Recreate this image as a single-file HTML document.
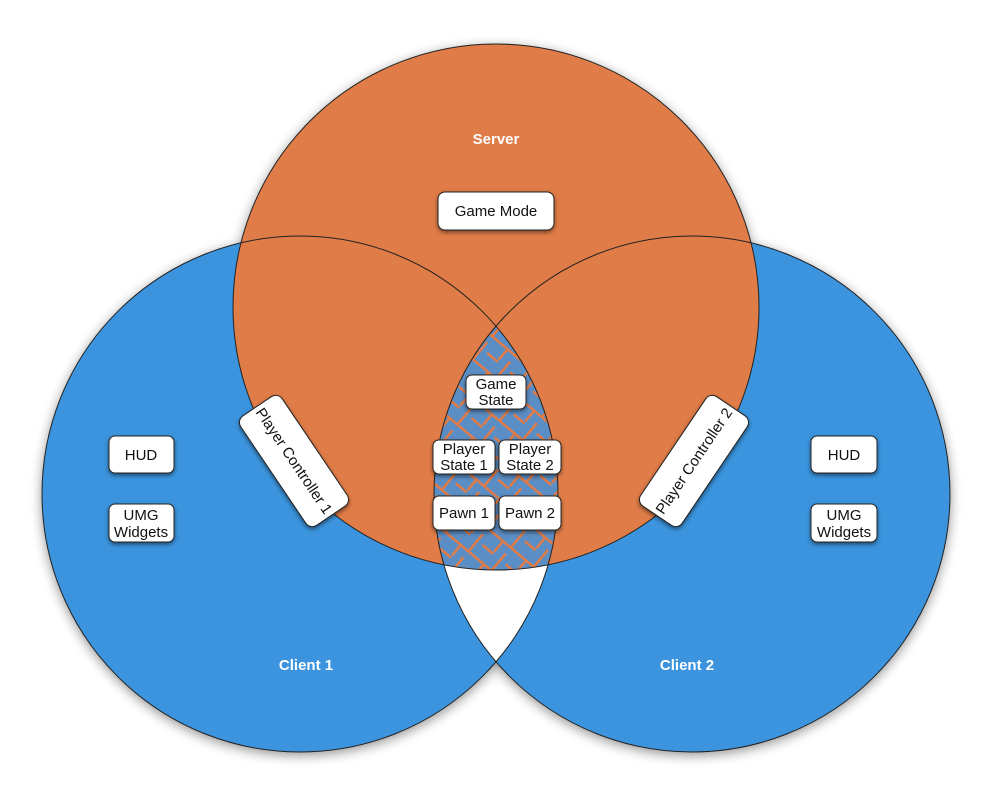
<!DOCTYPE html>
<html><head><meta charset="utf-8"><style>
html,body{margin:0;padding:0;background:#fff;}
svg{display:block}
text{font-family:"Liberation Sans",sans-serif;}
</style></head><body>
<svg width="994" height="800" viewBox="0 0 994 800" xmlns="http://www.w3.org/2000/svg">
<defs>
<filter id="sh" x="-20%" y="-20%" width="140%" height="140%"><feGaussianBlur in="SourceAlpha" stdDeviation="6"/><feOffset dx="0" dy="3"/><feComponentTransfer><feFuncA type="linear" slope="0.45"/></feComponentTransfer><feMerge><feMergeNode/><feMergeNode in="SourceGraphic"/></feMerge></filter>
<filter id="bs" x="-30%" y="-30%" width="160%" height="160%"><feGaussianBlur in="SourceAlpha" stdDeviation="2"/><feOffset dx="0" dy="2"/><feComponentTransfer><feFuncA type="linear" slope="0.5"/></feComponentTransfer><feMerge><feMergeNode/><feMergeNode in="SourceGraphic"/></feMerge></filter>
<pattern id="maze" width="30" height="30" patternUnits="userSpaceOnUse" patternTransform="rotate(40)">
<rect width="30" height="30" fill="#5b8ec4"/>
<rect x="0" y="0" width="30" height="2.5" fill="#e07b47"/>
<rect x="12" y="2" width="2.5" height="13" fill="#e07b47"/>
<rect x="0" y="16" width="14" height="2.5" fill="#e07b47"/>
<rect x="22" y="9" width="2.5" height="21" fill="#e07b47"/>
</pattern>
<clipPath id="c1"><circle cx="300" cy="494" r="258"/></clipPath>
<clipPath id="c2"><circle cx="692" cy="494" r="258"/></clipPath>
</defs>
<g filter="url(#sh)">
<circle cx="300" cy="494" r="258" fill="#3a94dd"/>
<circle cx="692" cy="494" r="258" fill="#3a94dd"/>
<circle cx="496" cy="307" r="263" fill="#e07b47"/>
</g>
<g clip-path="url(#c1)"><circle cx="692" cy="494" r="258" fill="#fff"/></g>
<g clip-path="url(#c1)"><g clip-path="url(#c2)"><circle cx="496" cy="307" r="263" fill="url(#maze)"/></g></g>
<g fill="none" stroke="#222" stroke-width="1">
<circle cx="300" cy="494" r="258"/>
<circle cx="692" cy="494" r="258"/>
<circle cx="496" cy="307" r="263"/>
</g>
<g font-size="15" fill="#fff" font-weight="bold" text-anchor="middle">
<text x="496" y="144">Server</text>
<text x="306" y="670">Client 1</text>
<text x="687" y="670">Client 2</text>
</g>
<g filter="url(#bs)" fill="#fff" stroke="#222" stroke-width="1">
<rect x="438" y="192" width="116" height="38" rx="7"/>
<rect x="466" y="375" width="60" height="34" rx="6"/>
<rect x="433" y="440" width="62" height="34" rx="6"/>
<rect x="499" y="440" width="62" height="34" rx="6"/>
<rect x="433" y="496" width="62" height="34" rx="6"/>
<rect x="499" y="496" width="62" height="34" rx="6"/>
<rect x="109" y="436" width="65" height="37" rx="6"/>
<rect x="109" y="504" width="65" height="38" rx="6"/>
<rect x="811" y="436" width="66" height="37" rx="6"/>
<rect x="811" y="504" width="66" height="38" rx="6"/>
<rect x="-66" y="-25" width="132" height="50" rx="8" transform="translate(294,461) rotate(56)"/>
<rect x="-66" y="-25" width="132" height="50" rx="8" transform="translate(694,461) rotate(-56)"/>
</g>
<g font-size="15" fill="#111" text-anchor="middle">
<text x="496" y="216">Game Mode</text>
<text x="496" y="389">Game</text><text x="496" y="405">State</text>
<text x="464" y="454">Player</text><text x="464" y="470">State 1</text>
<text x="530" y="454">Player</text><text x="530" y="470">State 2</text>
<text x="464" y="518">Pawn 1</text>
<text x="530" y="518">Pawn 2</text>
<text x="141" y="460">HUD</text>
<text x="141" y="520">UMG</text><text x="141" y="537">Widgets</text>
<text x="844" y="460">HUD</text>
<text x="844" y="520">UMG</text><text x="844" y="537">Widgets</text>
<text transform="translate(294,461) rotate(56)" y="5">Player Controller 1</text>
<text transform="translate(694,461) rotate(-56)" y="5">Player Controller 2</text>
</g>
</svg>
</body></html>
